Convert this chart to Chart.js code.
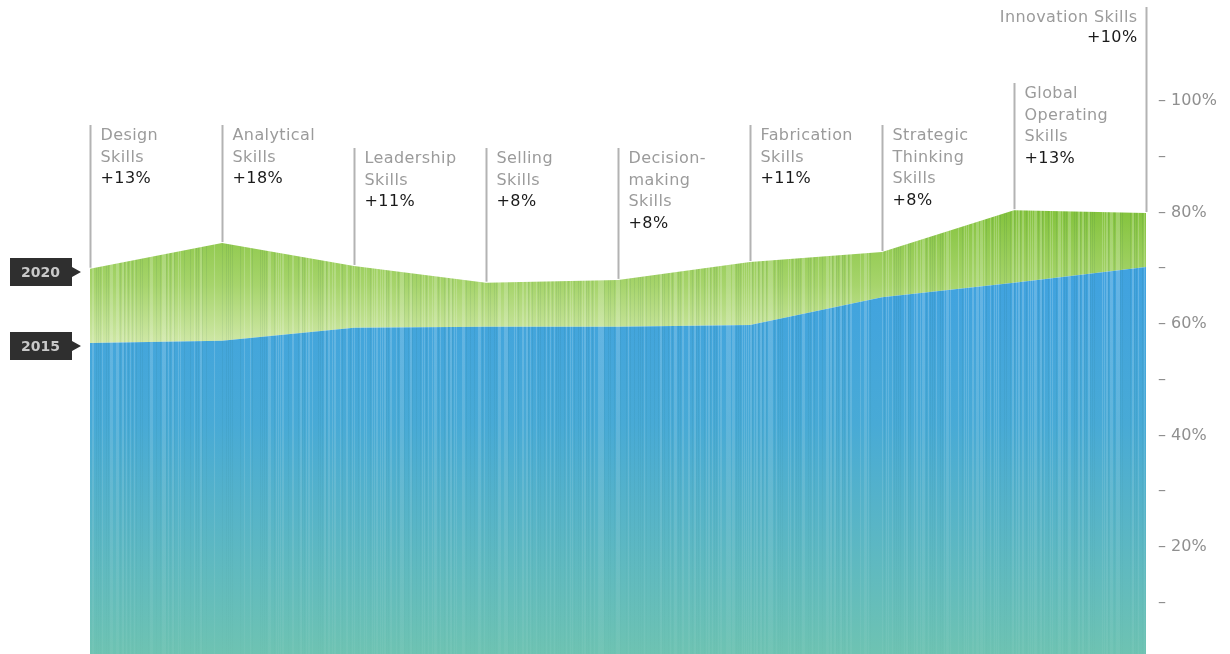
<!DOCTYPE html>
<html>
<head>
<meta charset="utf-8">
<script src="https://cdn.jsdelivr.net/npm/chart.js@4"></script>
<style>
  html, body { margin: 0; padding: 0; background: #fff; }
  #wrap { width: 1230px; height: 654px; position: relative; }
</style>
</head>
<body>
<div id="wrap"><canvas id="skillsChart"></canvas></div>
<script>
// skills along the x axis, with their label text split into lines
const skills = ['Design Skills', 'Analytical Skills', 'Leadership Skills', 'Selling Skills',
    'Decision-making Skills', 'Fabrication Skills', 'Strategic Thinking Skills',
    'Global Operating Skills', 'Innovation Skills'];
const skillLines = [
    ['Design', 'Skills'], ['Analytical', 'Skills'], ['Leadership', 'Skills'], ['Selling', 'Skills'],
    ['Decision-', 'making', 'Skills'], ['Fabrication', 'Skills'], ['Strategic', 'Thinking', 'Skills'],
    ['Global', 'Operating', 'Skills'], ['Innovation Skills']
];
const growth = ['+13%', '+18%', '+11%', '+8%', '+8%', '+11%', '+8%', '+13%', '+10%'];

// share of demand (%)
const share2015 = [56.6, 57.0, 59.3, 59.5, 59.5, 59.8, 64.8, 67.4, 70.2];
const share2020 = [69.9, 74.5, 70.4, 67.4, 67.9, 71.1, 72.9, 80.4, 79.9];

const yearLabels = ['2020', '2015'];
const yTicks = [10, 20, 30, 40, 50, 60, 70, 80, 90, 100];

const FONT = '"DejaVu Sans", sans-serif';

function blueFill(ctx) {
    const area = ctx.chart.chartArea;
    if (!area) return '#4aa6dc';
    const g = ctx.chart.ctx.createLinearGradient(0, area.top + 270, 0, area.bottom);
    g.addColorStop(0, '#40a2e0');
    g.addColorStop(0.4, '#48aad6');
    g.addColorStop(1, '#6ec3b2');
    return g;
}

function greenFill(ctx) {
    const area = ctx.chart.chartArea;
    if (!area) return '#8cc63f';
    const g = ctx.chart.ctx.createLinearGradient(0, area.top + 210, 0, area.top + 345);
    g.addColorStop(0, '#84c33d');
    g.addColorStop(0.55, '#a6d46b');
    g.addColorStop(1, '#d0e8a8');
    return g;
}

// thin vertical streaks painted only over the filled areas
const streaks = {
    id: 'streaks',
    afterDatasetsDraw(chart) {
        const { ctx, chartArea: a } = chart;
        ctx.save();
        ctx.beginPath();
        ctx.rect(a.left, a.top, a.right - a.left, a.bottom - a.top);
        ctx.clip();
        ctx.globalCompositeOperation = 'source-atop';
        let i = 0;
        for (let x = a.left; x < a.right; x += 2) {
            const s = Math.sin(i * 12.9898) * 43758.5453;
            const f = s - Math.floor(s);
            i++;
            if (f < 0.3) continue;
            const grad = ctx.createLinearGradient(0, a.top + 200, 0, a.bottom);
            if (f > 0.62) {
                grad.addColorStop(0, 'rgba(255,255,255,0.22)');
                grad.addColorStop(1, 'rgba(255,255,255,0.04)');
            } else {
                grad.addColorStop(0, 'rgba(0,70,60,0.09)');
                grad.addColorStop(1, 'rgba(0,70,60,0.01)');
            }
            ctx.fillStyle = grad;
            ctx.fillRect(x, a.top, f > 0.85 ? 2 : 1, a.bottom - a.top);
        }
        ctx.restore();
    }
};

// skill labels with their guide lines, plus the year tags on the left
const annotations = {
    id: 'annotations',
    afterDraw(chart) {
        const { ctx } = chart;
        const xs = chart.scales.x, ys = chart.scales.y;
        const tops = [125, 125, 148, 148, 148, 125, 125, 83, 7];
        ctx.save();
        skills.forEach((name, i) => {
            const px = Math.round(xs.getPixelForValue(i)) + 0.5;
            const py = ys.getPixelForValue(share2020[i]);
            ctx.strokeStyle = '#b3b3b3';
            ctx.lineWidth = 2;
            ctx.beginPath();
            ctx.moveTo(px, tops[i]);
            ctx.lineTo(px, py - 1);
            ctx.stroke();

            const last = i === skills.length - 1;
            ctx.textAlign = last ? 'right' : 'left';
            ctx.textBaseline = 'middle';
            ctx.letterSpacing = '0.4px';
            const tx = last ? px - 9 : px + 10;
            let ty = tops[i] + 11;
            ctx.font = '16px ' + FONT;
            ctx.fillStyle = '#9b9b9b';
            skillLines[i].forEach(line => {
                ctx.fillText(line, tx, ty);
                ty += 21.5;
            });
            ctx.fillStyle = '#1a1a1a';
            ctx.fillText(growth[i], tx, ty - (last ? 2 : 0));
        });
        ctx.letterSpacing = '0px';

        // year tags pointing at the start of each series
        [share2020[0], share2015[0]].forEach((v, k) => {
            const cy = Math.round(ys.getPixelForValue(v)) + 3;
            ctx.fillStyle = '#2f2f2f';
            ctx.beginPath();
            ctx.moveTo(10, cy - 14);
            ctx.lineTo(72, cy - 14);
            ctx.lineTo(72, cy - 5);
            ctx.lineTo(81, cy);
            ctx.lineTo(72, cy + 5);
            ctx.lineTo(72, cy + 14);
            ctx.lineTo(10, cy + 14);
            ctx.closePath();
            ctx.fill();
            ctx.fillStyle = '#c9c9c9';
            ctx.font = 'bold 14px ' + FONT;
            ctx.textAlign = 'left';
            ctx.textBaseline = 'middle';
            ctx.fillText(yearLabels[k], 21, cy + 1);
        });
        ctx.restore();
    }
};

new Chart(document.getElementById('skillsChart'), {
    type: 'line',
    data: {
        labels: skills,
        datasets: [
            {
                label: '2015',
                data: share2015.map((v, i) => ({ x: i, y: v })),
                fill: 'origin',
                backgroundColor: blueFill,
                borderWidth: 0,
                pointRadius: 0,
                tension: 0
            },
            {
                label: '2020',
                data: share2020.map((v, i) => ({ x: i, y: v })),
                fill: '-1',
                backgroundColor: greenFill,
                borderWidth: 0,
                pointRadius: 0,
                tension: 0
            }
        ]
    },
    options: {
        responsive: true,
        maintainAspectRatio: false,
        animation: false,
        layout: { padding: { left: 90, right: 0, top: 0, bottom: 0 } },
        plugins: {
            legend: { display: false },
            tooltip: { enabled: false }
        },
        scales: {
            x: {
                type: 'linear',
                min: 0,
                max: skills.length - 1,
                display: false
            },
            y: {
                position: 'right',
                min: 0.8,
                max: 118.1,
                grid: { display: false, drawTicks: false },
                border: { display: false },
                afterBuildTicks: scale => { scale.ticks = yTicks.map(v => ({ value: v })); },
                afterFit: scale => {
                    scale.width = 84;
                    scale.paddingTop = 0;
                    scale.paddingBottom = 0;
                },
                ticks: {
                    padding: 12,
                    color: '#8f8f8f',
                    font: { family: FONT, size: 16 },
                    callback: v => (v % 20 === 0 ? '\u2013 ' + v + '%' : '\u2013')
                }
            }
        }
    },
    plugins: [streaks, annotations]
});
</script>
</body>
</html>
